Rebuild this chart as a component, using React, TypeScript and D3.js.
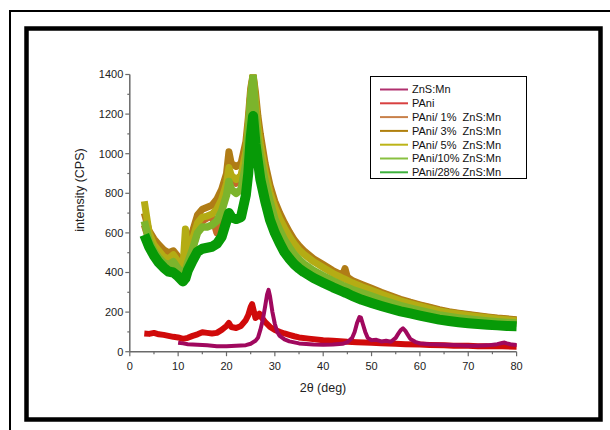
import React from "react";
import * as d3 from "d3";

// ---- data ----
const compX = [3,4,5,6,7,8,9,10,11,11.5,12,13,14,15,16,17,18,19,20,20.5,21,22,23,24,24.5,25,25.5,26,26.5,27,28,29,30,31,32,33,34,35,36,38,40,42,44,44.5,45,46,48,50,52,54,56,58,60,62,64,66,68,70,72,74,76,78,80];

const pani1 = [640,560,515,480,455,440,450,410,360,400,440,520,610,660,675,685,600,720,820,900,860,850,870,1000,1140,1300,1390,1260,1150,1060,920,815,740,685,638,595,556,526,502,462,432,402,378,372,366,354,334,315,296,278,261,247,234,222,209,199,192,185,179,173,167,163,159];
const pani3 = [700,610,570,540,515,500,510,480,460,480,530,610,690,720,730,740,770,820,900,1010,950,935,950,1060,1180,1330,1400,1310,1190,1100,950,840,760,700,650,605,565,535,510,470,440,410,385,420,376,360,340,320,300,282,265,250,237,225,212,202,195,188,182,176,170,166,162];
const pani5 = [760,600,540,510,480,470,490,455,430,620,490,570,650,680,685,695,720,770,850,930,890,870,890,1010,1140,1300,1400,1270,1140,1050,910,805,730,672,625,582,545,515,492,455,425,396,372,366,360,348,328,310,291,274,257,243,230,218,206,197,190,183,177,171,165,161,157];
const pani10 = [660,560,510,475,450,440,455,420,395,410,450,520,600,630,630,640,660,710,790,860,820,800,820,950,1100,1280,1390,1200,1070,985,860,760,670,615,565,527,492,466,444,410,383,358,335,330,325,314,298,281,264,248,233,220,208,197,186,178,171,165,160,155,151,148,145];
const pani28 = [590,530,485,450,425,405,400,380,355,370,410,460,505,520,525,530,545,580,660,700,680,670,680,790,900,1080,1190,1050,960,870,760,665,600,548,502,470,442,420,402,372,348,325,304,299,294,282,262,246,231,217,204,193,182,172,162,155,149,144,140,136,133,130,128];

const paniX = [3,4,5,6,7,8,9,10,11,12,13,14,15,16,17,18,19,20,20.5,21,22,23,24,24.5,25,25.3,25.7,26,26.5,26.8,27.2,28,29,30,31,32,33,34,35,37,40,42,45,47,50,52,55,57,60,62,65,67,70,72,75,77,80];
const paniY = [92,90,95,88,85,80,75,72,65,70,80,88,98,95,92,95,110,130,145,125,120,130,160,185,225,240,200,170,180,192,175,150,125,110,100,92,85,78,72,66,58,55,50,48,45,43,40,38,36,34,32,30,30,28,28,27,25];

const znsX = [10,11,12,14,16,18,20,22,24,25,26,26.5,27,27.5,28,28.4,28.7,29,29.5,30,30.5,31,32,33,35,38,40,42,44,45,46,46.5,47,47.5,47.8,48.2,48.7,49.2,50,51,52,53,54,55,55.5,56,56.5,57,57.5,58,59,60,62,65,68,70,72,74,76,77,77.5,78,79,80];
const znsY = [45,42,38,35,32,28,27,30,33,40,55,70,110,160,230,290,312,280,200,140,100,80,62,52,42,36,35,36,40,48,70,100,145,175,172,140,100,70,58,60,52,55,50,70,90,108,118,105,85,65,50,42,38,35,32,30,30,32,38,44,46,42,36,34];

const seriesNames = ["ZnS:Mn","PAni","PAni/ 1%  ZnS:Mn","PAni/ 3%  ZnS:Mn","PAni/ 5%  ZnS:Mn","PAni/10% ZnS:Mn","PAni/28% ZnS:Mn"];
const seriesColors = ["#a0085e","#d00a0a","#c4692a","#b07c16","#b4ac14","#7cb42c","#079a07"];
const legendColors = ["#b0306e","#d84040","#c8804a","#b0800e","#bcb418","#88c040","#3cb03c"];

const xTicks = [0,10,20,30,40,50,60,70,80];
const yTicks = [0,200,400,600,800,1000,1200,1400];

export default function App() {
  const W = 610, H = 430;
  const x = d3.scaleLinear().domain([0, 80]).range([129.8, 516.6]);
  const y = d3.scaleLinear().domain([0, 1400]).range([351.7, 74.5]);
  const line = (xs: number[], ys: number[]) =>
    d3.line<number>().x((_, i) => x(xs[i])).y((v) => y(v))(ys) || "";

  const series = [
    { xs: znsX, ys: znsY, w: 4 },
    { xs: paniX, ys: paniY, w: 6 },
    { xs: compX, ys: pani1, w: 7 },
    { xs: compX, ys: pani3, w: 7 },
    { xs: compX, ys: pani5, w: 7 },
    { xs: compX, ys: pani10, w: 7.5 },
    { xs: compX, ys: pani28, w: 10 },
  ];
  const drawOrder = [1, 0, 2, 3, 4, 5, 6];
  const axisColor = "#6a6a6a";
  const font = "'Liberation Sans', Arial, sans-serif";
  const xMinor = d3.range(0, 81, 5);
  const yMinor = d3.range(0, 1401, 100);

  return (
    <svg width={W} height={H} style={{ position: "fixed", left: 0, top: 0 }} fontFamily={font}>
      <rect x={0} y={0} width={W} height={H} fill="#fff" />
      {/* outer frame */}
      <rect x={10} y={11} width={640} height={460} fill="none" stroke="#000" strokeWidth={2} />
      {/* inner frame */}
      <rect x={26.5} y={28.5} width={574} height={391} fill="none" stroke="#000" strokeWidth={4.5} />
      <defs>
        <clipPath id="plotclip">
          <rect x={x(0)} y={y(1400)} width={x(80) - x(0) + 1} height={y(0) - y(1400) + 10} />
        </clipPath>
      </defs>
      <g clipPath="url(#plotclip)">
        {drawOrder.map((i) => (
          <path key={i} d={line(series[i].xs, series[i].ys)} fill="none" stroke={seriesColors[i]}
            strokeWidth={series[i].w} strokeLinejoin="round" />
        ))}
      </g>
      {/* y axis */}
      <line x1={x(0)} x2={x(0)} y1={y(0)} y2={y(1400)} stroke={axisColor} strokeWidth={1.5} />
      {yMinor.map((t) => (
        <line key={"ym" + t} x1={x(0)} x2={x(0) - (t % 200 === 0 ? 4.5 : 2.5)} y1={y(t)} y2={y(t)}
          stroke={axisColor} strokeWidth={1.2} />
      ))}
      {yTicks.map((t) => (
        <text key={"yt" + t} x={x(0) - 6.5} y={y(t)} dy="0.35em" textAnchor="end" fontSize={11} fill="#222">{t}</text>
      ))}
      {/* x axis */}
      <line x1={x(0)} x2={x(80)} y1={y(0)} y2={y(0)} stroke={axisColor} strokeWidth={1.5} />
      {xMinor.map((t) => (
        <line key={"xm" + t} x1={x(t)} x2={x(t)} y1={y(0)} y2={y(0) + (t % 10 === 0 ? 4.5 : 2.5)}
          stroke={axisColor} strokeWidth={1.2} />
      ))}
      {xTicks.map((t) => (
        <text key={"xt" + t} x={x(t)} y={y(0) + 14} dy="0.35em" textAnchor="middle" fontSize={11} fill="#222">{t}</text>
      ))}
      <text x={323} y={388} dy="0.35em" textAnchor="middle" fontSize={12.5} fill="#222">2θ (deg)</text>
      <text transform="translate(80,190) rotate(-90)" dy="0.35em" textAnchor="middle" fontSize={12.5} fill="#222">intensity (CPS)</text>
      {/* legend */}
      <rect x={370.5} y={76.5} width={156} height={102} fill="#fff" stroke="#000" strokeWidth={1} />
      {seriesNames.map((n, i) => {
        const ly = 89.5 + i * 13.8;
        return (
          <g key={n}>
            <line x1={380} x2={408} y1={ly} y2={ly} stroke={legendColors[i]} strokeWidth={2} />
            <text x={412} y={ly} dy="0.35em" fontSize={11} fill="#111" style={{ whiteSpace: "pre" }}>{n}</text>
          </g>
        );
      })}
    </svg>
  );
}
